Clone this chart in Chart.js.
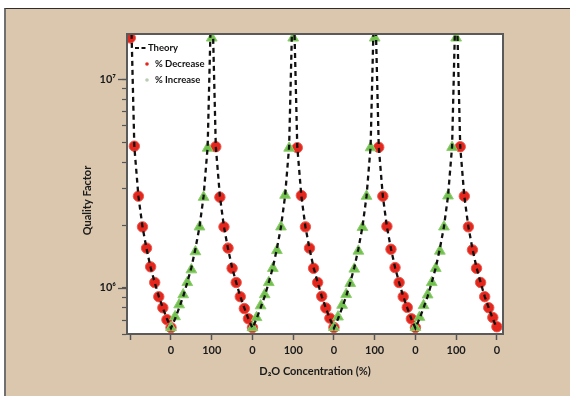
<!DOCTYPE html>
<html><head><meta charset="utf-8">
<script src="https://cdn.jsdelivr.net/npm/chart.js@4.4.1/dist/chart.umd.min.js"></script>
<style>
html,body{margin:0;padding:0;background:#fff;}
#wrap{position:relative;width:570px;height:396px;overflow:hidden;}
#panel{position:absolute;left:4px;top:8px;width:566px;height:388px;background:#dac7ae;border-top:1px solid #2e2e2e;border-left:2px solid #707070;box-sizing:border-box;}
#c{position:absolute;left:0;top:0;}
</style></head><body>
<div id="wrap"><div id="panel"></div><canvas id="c" width="570" height="396"></canvas></div>
<script>
// D2O concentration steps (%) along one decreasing sweep
const concentrations = [100, 90, 80, 70, 60, 50, 40, 30, 20, 10, 0];
// Theory quality factor at each concentration above
const theoryQ = [3.0e7, 4.75e6, 2.75e6, 1.96e6, 1.54e6, 1.25e6, 1.06e6, 9.1e5, 8.0e5, 7.1e5, 6.4e5];
// Measured Q while decreasing D2O (100 -> 0 %), one list per sweep (null = not plotted)
const decreaseRun1 = [1.58e7, 4.78e6, 2.75e6, 1.96e6, 1.55e6, 1.26e6, 1.06e6, 9.06e5, 8.02e5, 7.03e5, 6.44e5];
const decreaseRun2 = [null, 4.75e6, 2.72e6, 1.96e6, 1.55e6, 1.24e6, 1.06e6, 9.06e5, 7.95e5, 7.10e5, 6.44e5];
const decreaseRun3 = [null, 4.70e6, 2.77e6, 1.96e6, 1.55e6, 1.24e6, 1.06e6, 9.10e5, 8.00e5, 7.15e5, 6.45e5];
const decreaseRun4 = [null, 4.72e6, 2.75e6, 1.97e6, 1.53e6, 1.25e6, 1.06e6, 9.06e5, 8.05e5, 7.10e5, 6.45e5];
const decreaseRun5 = [null, 4.75e6, 2.75e6, 1.96e6, 1.52e6, 1.24e6, 1.06e6, 9.06e5, 8.02e5, 7.20e5, 6.50e5];
// Measured Q while increasing D2O (0 -> 100 %), one list per sweep
const increaseRun1 = [6.44e5, 7.27e5, 8.29e5, 9.27e5, 1.06e6, 1.22e6, 1.49e6, 1.96e6, 2.72e6, 4.68e6, 1.58e7];
const increaseRun2 = [6.44e5, 7.20e5, 8.20e5, 9.27e5, 1.06e6, 1.24e6, 1.51e6, 1.96e6, 2.78e6, 4.68e6, 1.58e7];
const increaseRun3 = [6.45e5, 7.25e5, 8.25e5, 9.30e5, 1.05e6, 1.23e6, 1.50e6, 1.95e6, 2.75e6, 4.70e6, 1.58e7];
const increaseRun4 = [6.45e5, 7.22e5, 8.22e5, 9.25e5, 1.06e6, 1.24e6, 1.50e6, 1.96e6, 2.76e6, 4.72e6, 1.58e7];
// Axis ticks and legend
const xTickPositions = [0, 100, 200, 300, 400, 500, 600, 700, 800, 900];
const xTickLabels = ['', '0', '100', '0', '100', '0', '100', '0', '100', '0'];
const yTickValues = [1e6, 1e7];
const yTickLabels = ['10\u2076', '10\u2077'];
const legendLabels = ['Theory', '% Decrease', '% Increase'];

const decreaseRuns = [decreaseRun1, decreaseRun2, decreaseRun3, decreaseRun4, decreaseRun5];
const increaseRuns = [increaseRun1, increaseRun2, increaseRun3, increaseRun4];
const ascending = concentrations.slice().reverse();
const theoryAsc = theoryQ.slice().reverse();

const decPts = [], incPts = [], theoryPts = [];
for (let k = 0; k < decreaseRuns.length; k++) {
  const base = 200 * k;
  decreaseRuns[k].forEach((q, i) => { if (q !== null) decPts.push({x: base + (100 - concentrations[i]), y: q}); });
  concentrations.forEach((c, i) => theoryPts.push({x: base + (100 - c), y: theoryQ[i]}));
  if (k < increaseRuns.length) {
    const b2 = base + 100;
    increaseRuns[k].forEach((q, i) => incPts.push({x: b2 + ascending[i], y: q}));
    ascending.forEach((c, i) => { if (i > 0) theoryPts.push({x: b2 + c, y: theoryAsc[i]}); });
  }
}

const FONT = "Lato, 'DejaVu Sans', sans-serif";
const RED = '#e4261c', GREEN = '#72c04e';

const framePlugin = {
  id: 'frame',
  beforeDatasetsDraw(chart) {
    const {ctx, chartArea: a} = chart;
    ctx.save(); ctx.fillStyle = '#ffffff'; ctx.fillRect(a.left, a.top, a.width, a.height); ctx.restore();
  },
  afterDatasetsDraw(chart) {
    const {ctx, chartArea: a} = chart;
    ctx.save(); ctx.strokeStyle = '#5a5a5a'; ctx.lineWidth = 2;
    ctx.strokeRect(a.left, a.top, a.width, a.height);
    // longer ticks for the decade values
    const ys = chart.scales.y;
    ctx.lineWidth = 1.3; ctx.strokeStyle = '#555';
    yTickValues.forEach(v => {
      const py = Math.round(ys.getPixelForValue(v)) + 0.5;
      ctx.beginPath(); ctx.moveTo(a.left - 9, py); ctx.lineTo(a.left, py); ctx.stroke();
    });
    // legend inside the plot area
    ctx.font = 'bold 9.5px ' + FONT; ctx.fillStyle = '#111'; ctx.textBaseline = 'middle'; ctx.textAlign = 'left';
    const lx = a.left, ly = a.top;
    ctx.save(); ctx.strokeStyle = '#111'; ctx.lineWidth = 2; ctx.setLineDash([4, 2.5]);
    ctx.beginPath(); ctx.moveTo(lx + 8, ly + 14); ctx.lineTo(lx + 19, ly + 14); ctx.stroke(); ctx.restore();
    ctx.fillText(legendLabels[0], lx + 21, ly + 14);
    ctx.fillStyle = RED; ctx.beginPath(); ctx.arc(lx + 20, ly + 30, 1.8, 0, Math.PI * 2); ctx.fill();
    ctx.fillStyle = '#111'; ctx.fillText(legendLabels[1], lx + 28, ly + 30);
    ctx.fillStyle = '#b9cdb0'; ctx.beginPath(); ctx.arc(lx + 20, ly + 46, 1.8, 0, Math.PI * 2); ctx.fill();
    ctx.fillStyle = '#111'; ctx.fillText(legendLabels[2], lx + 28, ly + 46);
    ctx.restore();
  }
};

new Chart(document.getElementById('c'), {
  type: 'scatter',
  data: {
    datasets: [
      {label: legendLabels[0], data: theoryPts, showLine: true, borderColor: '#111', borderWidth: 2.3,
       borderDash: [5, 4], pointRadius: 0, fill: false, tension: 0},
      {label: legendLabels[2], data: incPts, showLine: false, pointStyle: 'triangle', pointRadius: 6.2,
       backgroundColor: GREEN, borderColor: '#8ccd6c', borderWidth: 1},
      {label: legendLabels[1], data: decPts, showLine: false, pointStyle: 'circle', pointRadius: 5.2,
       backgroundColor: RED, borderColor: '#ec5a4e', borderWidth: 1}
    ]
  },
  options: {
    responsive: false, animation: false, devicePixelRatio: 1,
    layout: {padding: {left: 77, right: 67, top: 34, bottom: 14}},
    plugins: {tooltip: {enabled: false}, legend: {display: false}},
    scales: {
      x: {
        type: 'linear', min: -8, max: 915,
        afterFit: s => { s.height = 48; },
        afterBuildTicks: s => { s.ticks = xTickPositions.map(v => ({value: v})); },
        grid: {drawOnChartArea: false, drawTicks: true, tickLength: 6, color: '#555', tickWidth: 1.5},
        border: {display: true, color: '#5a5a5a', width: 2},
        ticks: {
          autoSkip: false, maxRotation: 0, padding: 4, color: '#1a1a1a',
          font: {family: FONT, size: 11, weight: 'bold'},
          callback: v => { const i = xTickPositions.indexOf(v); return i >= 0 ? xTickLabels[i] : ''; }
        },
        title: {display: true, text: 'D\u2082O Concentration (%)', color: '#1a1a1a',
                font: {family: FONT, size: 11, weight: 'bold'}, padding: {top: 0, bottom: 4}}
      },
      y: {
        type: 'logarithmic', min: 6.0e5, max: 1.65e7,
        afterFit: s => { s.width = 50; },
        afterBuildTicks: s => {
          s.ticks = s.ticks.filter(t => {
            const m = t.value / Math.pow(10, Math.floor(Math.log10(t.value) + 1e-9));
            return Math.abs(m - Math.round(m)) < 1e-6;
          });
        },
        grid: {drawOnChartArea: false, drawTicks: true, tickLength: 5, color: '#555', tickWidth: 1.2},
        border: {display: true, color: '#5a5a5a', width: 2},
        ticks: {
          autoSkip: false, padding: 6, color: '#1a1a1a',
          font: {family: FONT, size: 11, weight: 'bold'},
          callback: v => {
            for (let i = 0; i < yTickValues.length; i++) {
              if (Math.abs(Math.log10(v) - Math.log10(yTickValues[i])) < 1e-6) return yTickLabels[i];
            }
            return '';
          }
        },
        title: {display: true, text: 'Quality Factor\u2003\u2003\u2003\u2003', color: '#1a1a1a',
                font: {family: FONT, size: 11, weight: 'bold'}, padding: {top: 4, bottom: 0}}
      }
    }
  },
  plugins: [framePlugin]
});
</script>
</body></html>
